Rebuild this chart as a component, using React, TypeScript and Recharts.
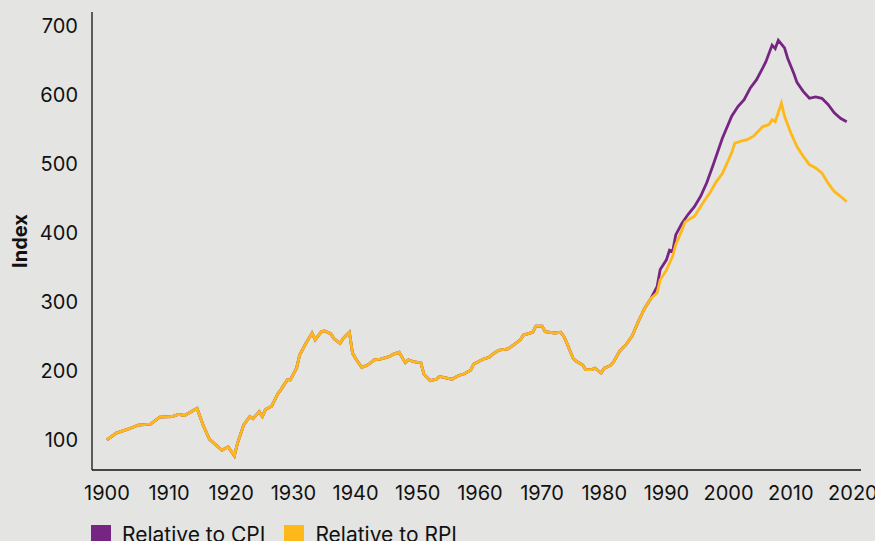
import React from 'react';
import { Line, LineChart, XAxis, YAxis } from 'recharts';

// Both series follow the same path until the late 1980s
const sharedYears = [
  1900, 1901.5, 1903.5, 1905, 1907, 1908.5, 1910.5, 1911.5, 1912.5, 1914.5,
  1915.5, 1916.5, 1917.5, 1918.5, 1919.5, 1920.5, 1921, 1922, 1923, 1923.5,
  1924.5, 1925, 1925.5, 1926.5, 1927.5, 1928, 1929, 1929.5, 1930.5, 1931,
  1932, 1933, 1933.5, 1934.5, 1935, 1936, 1936.5, 1937.5, 1938, 1939,
  1939.5, 1940, 1941, 1942, 1943, 1944, 1945.5, 1946, 1947, 1948,
  1948.5, 1949.5, 1950.5, 1951, 1952, 1953, 1953.5, 1954.5, 1955.5, 1956.5,
  1957.5, 1958.5, 1959, 1960.5, 1961.5, 1962, 1963, 1964.5, 1965.5, 1966.5,
  1967, 1968.5, 1969, 1970, 1970.5, 1972, 1973, 1973.5, 1974, 1975,
  1975.5, 1976.5, 1977, 1978, 1978.5, 1979.5, 1980, 1981, 1981.5, 1982.5,
  1983.5, 1984.5, 1985.5, 1986.5, 1987.5,
];
const sharedIndex = [
  100, 110, 116, 121.5, 123, 133, 134, 137, 135.5, 146,
  121, 101, 93, 85, 90, 77, 95, 122, 134, 131,
  141, 134, 144, 149, 167, 173, 187, 187, 204, 223,
  240, 255, 245, 257, 258, 254, 247, 240, 247, 256,
  226, 218, 205, 209, 216, 217, 221, 224, 227, 212,
  216, 213, 212, 195, 186, 188, 192, 190, 188, 193,
  196, 201, 210, 217, 220, 224, 230, 232, 238, 245,
  252, 256, 265, 265, 257, 255, 256, 250, 240, 218,
  214, 209, 202, 202, 204, 197, 204, 208, 213, 229,
  238, 251, 272, 291, 305,
];

const cpiYears = [
  1988.5, 1989, 1990, 1990.5, 1991, 1991.5, 1992.5, 1993.5, 1994.5, 1995.5,
  1996.5, 1997.5, 1999, 2000.5, 2001.5, 2002.5, 2003.5, 2004.5, 2005.5, 2006,
  2007, 2007.5, 2008, 2009, 2009.5, 2010.5, 2011, 2012, 2013, 2014,
  2015, 2016, 2017, 2018, 2019,
];
const cpiIndex = [
  322, 347, 361, 375, 373, 397, 414, 427, 438, 453,
  473, 498, 537, 569, 583, 593, 610, 622, 639, 648,
  672, 667, 679, 668, 653, 631, 618, 605, 595, 597,
  595, 586, 574, 566, 561,
];

const rpiYears = [
  1988.5, 1989, 1990, 1991, 1991.5, 1992.5, 1993, 1994.5, 1995, 1996,
  1997, 1998, 1999, 2000.5, 2001, 2002, 2003, 2004, 2005.5, 2006.5,
  2007, 2007.5, 2008.5, 2009, 2010, 2011, 2012, 2013, 2014, 2015,
  2016, 2017, 2018, 2019,
];
const rpiIndex = [
  313, 332, 346, 366, 383, 404, 416, 424, 431, 445,
  458, 474, 486, 516, 530, 533, 535, 540, 554, 557,
  564, 561, 588, 569, 545, 525, 511, 499, 494, 487,
  472, 460, 453, 445,
];

const yearTicks = [1900, 1910, 1920, 1930, 1940, 1950, 1960, 1970, 1980, 1990, 2000, 2010, 2020];
const indexTicks = [100, 200, 300, 400, 500, 600, 700];

const CPI_COLOR = '#772583';
const RPI_COLOR = '#ffb819';
const FONT = 'Inter, "Liberation Sans", Arial, sans-serif';

const toRows = (years: number[], values: number[]) =>
  years.map((year, i) => ({ year, value: values[i] }));

const cpiData = [...toRows(sharedYears, sharedIndex), ...toRows(cpiYears, cpiIndex)];
const rpiData = [...toRows(sharedYears, sharedIndex), ...toRows(rpiYears, rpiIndex)];

const IndexLabel = (props: any) => {
  const { viewBox } = props;
  const cx = viewBox.x + 20;
  const cy = viewBox.y + viewBox.height / 2;
  return (
    <text
      x={cx}
      y={cy}
      transform={`rotate(-90, ${cx}, ${cy})`}
      textAnchor="middle"
      dominantBaseline="central"
      fontSize={20}
      fontWeight={700}
      fill="#111"
      fontFamily={FONT}
    >
      Index
    </text>
  );
};

const legendItems = [
  { label: 'Relative to CPI', color: CPI_COLOR },
  { label: 'Relative to RPI', color: RPI_COLOR },
];

export default function App() {
  return (
    <div
      style={{
        position: 'absolute',
        left: 0,
        top: 0,
        width: 875,
        height: 541,
        overflow: 'hidden',
        background: '#e4e4e2',
        fontFamily: FONT,
      }}
    >
      <LineChart width={875} height={541} margin={{ top: 12, right: 14, bottom: 0, left: 0 }}>
        <XAxis
          type="number"
          dataKey="year"
          domain={[1897.6, 2021.3]}
          ticks={yearTicks}
          tickLine={false}
          tickSize={6}
          tickMargin={10}
          height={71}
          axisLine={{ stroke: '#111', strokeWidth: 1.3 }}
          tick={{ fontSize: 20, fill: '#111', fontFamily: FONT }}
          allowDuplicatedCategory={false}
        />
        <YAxis
          type="number"
          domain={[56.5, 720]}
          ticks={indexTicks}
          tickLine={false}
          tickSize={6}
          tickMargin={8}
          width={92}
          axisLine={{ stroke: '#111', strokeWidth: 1.3 }}
          tick={{ fontSize: 20, fill: '#111', fontFamily: FONT }}
          label={<IndexLabel />}
        />
        <Line
          data={cpiData}
          dataKey="value"
          type="linear"
          stroke={CPI_COLOR}
          strokeWidth={2.8}
          dot={false}
          activeDot={false}
          isAnimationActive={false}
        />
        <Line
          data={rpiData}
          dataKey="value"
          type="linear"
          stroke={RPI_COLOR}
          strokeWidth={2.8}
          dot={false}
          activeDot={false}
          isAnimationActive={false}
        />
      </LineChart>
      <div
        style={{
          position: 'absolute',
          left: 91,
          top: 525,
          display: 'flex',
          alignItems: 'flex-start',
          fontSize: 21,
          lineHeight: '20px',
          color: '#111',
        }}
      >
        {legendItems.map((item) => (
          <div key={item.label} style={{ display: 'flex', alignItems: 'flex-start', marginRight: 19 }}>
            <span style={{ width: 20, height: 20, background: item.color, marginRight: 11 }} />
            <span>{item.label}</span>
          </div>
        ))}
      </div>
    </div>
  );
}
